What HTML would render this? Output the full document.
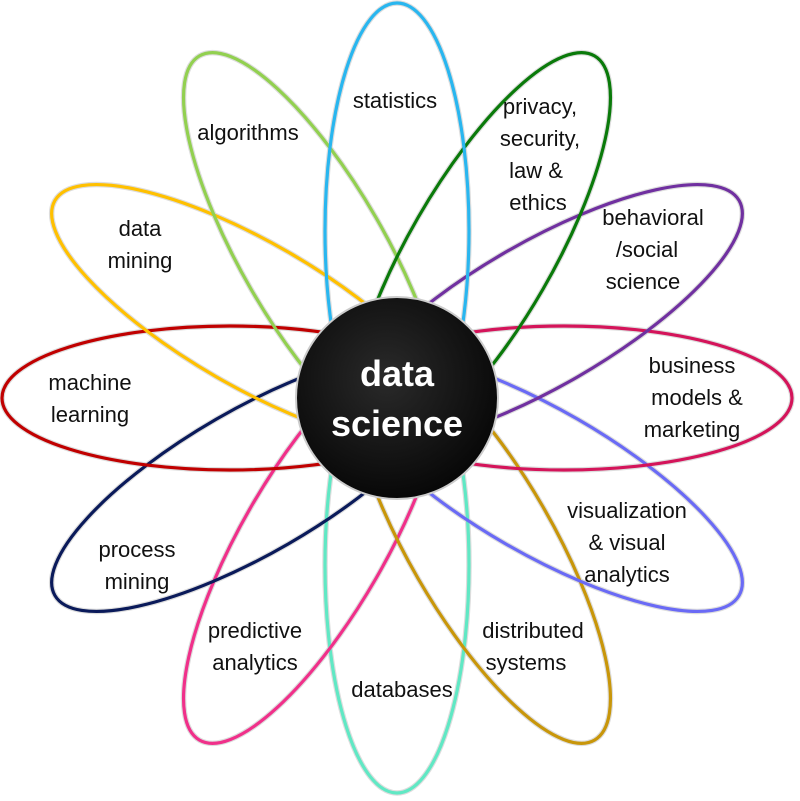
<!DOCTYPE html>
<html><head><meta charset="utf-8"><style>
html,body{margin:0;padding:0;background:#fff;}
svg{display:block}
text{font-family:"Liberation Sans",sans-serif;font-size:22px;fill:#111;text-anchor:middle}
</style></head><body>
<svg width="800" height="801" viewBox="0 0 800 801">
<defs>
<radialGradient id="g" cx="45%" cy="40%" r="65%"><stop offset="0" stop-color="#2a2a2a"/><stop offset="1" stop-color="#050505"/></radialGradient>
</defs>
<g transform="translate(397,398)" fill="none">
<g stroke="#ddd" stroke-width="5.5">
<ellipse cx="167" cy="0" rx="228" ry="72" transform="rotate(-90)"/>
<ellipse cx="167" cy="0" rx="228" ry="72" transform="rotate(-60)"/>
<ellipse cx="167" cy="0" rx="228" ry="72" transform="rotate(-30)"/>
<ellipse cx="167" cy="0" rx="228" ry="72" transform="rotate(0)"/>
<ellipse cx="167" cy="0" rx="228" ry="72" transform="rotate(30)"/>
<ellipse cx="167" cy="0" rx="228" ry="72" transform="rotate(60)"/>
<ellipse cx="167" cy="0" rx="228" ry="72" transform="rotate(90)"/>
<ellipse cx="167" cy="0" rx="228" ry="72" transform="rotate(120)"/>
<ellipse cx="167" cy="0" rx="228" ry="72" transform="rotate(150)"/>
<ellipse cx="167" cy="0" rx="228" ry="72" transform="rotate(180)"/>
<ellipse cx="167" cy="0" rx="228" ry="72" transform="rotate(210)"/>
<ellipse cx="167" cy="0" rx="228" ry="72" transform="rotate(240)"/>
</g>
<g stroke-width="3.2">
<ellipse cx="167" cy="0" rx="228" ry="72" transform="rotate(90)" stroke="#60e8c4"/>
<ellipse cx="167" cy="0" rx="228" ry="72" transform="rotate(120)" stroke="#f0308a"/>
<ellipse cx="167" cy="0" rx="228" ry="72" transform="rotate(60)" stroke="#c8960a"/>
<ellipse cx="167" cy="0" rx="228" ry="72" transform="rotate(150)" stroke="#0a1a5a"/>
<ellipse cx="167" cy="0" rx="228" ry="72" transform="rotate(30)" stroke="#6a6af5"/>
<ellipse cx="167" cy="0" rx="228" ry="72" transform="rotate(0)" stroke="#d4145a"/>
<ellipse cx="167" cy="0" rx="228" ry="72" transform="rotate(180)" stroke="#c00000"/>
<ellipse cx="167" cy="0" rx="228" ry="72" transform="rotate(210)" stroke="#ffc000"/>
<ellipse cx="167" cy="0" rx="228" ry="72" transform="rotate(-30)" stroke="#7030a0"/>
<ellipse cx="167" cy="0" rx="228" ry="72" transform="rotate(240)" stroke="#92d050"/>
<ellipse cx="167" cy="0" rx="228" ry="72" transform="rotate(-60)" stroke="#0a7a0a"/>
<ellipse cx="167" cy="0" rx="228" ry="72" transform="rotate(-90)" stroke="#29b6ef"/>
</g>
<circle r="101" fill="url(#g)" stroke="#ccc" stroke-width="2"/>
</g>
<text x="397" y="386" style="font-size:36px;font-weight:bold;fill:#fff">data</text>
<text x="397" y="436" style="font-size:36px;font-weight:bold;fill:#fff">science</text>
<text x="395" y="108">statistics</text>
<text x="248" y="140">algorithms</text>
<text x="140" y="236">data</text><text x="140" y="268">mining</text>
<text x="90" y="390">machine</text><text x="90" y="422">learning</text>
<text x="137" y="557">process</text><text x="137" y="589">mining</text>
<text x="255" y="638">predictive</text><text x="255" y="670">analytics</text>
<text x="402" y="697">databases</text>
<text x="533" y="638">distributed</text><text x="526" y="670">systems</text>
<text x="627" y="518">visualization</text><text x="627" y="550">&amp; visual</text><text x="627" y="582">analytics</text>
<text x="692" y="373">business</text><text x="697" y="405">models &amp;</text><text x="692" y="437">marketing</text>
<text x="653" y="225">behavioral</text><text x="647" y="257">/social</text><text x="643" y="289">science</text>
<text x="540" y="114">privacy,</text><text x="540" y="146">security,</text><text x="536" y="178">law &amp;</text><text x="538" y="210">ethics</text>
</svg>
</body></html>
